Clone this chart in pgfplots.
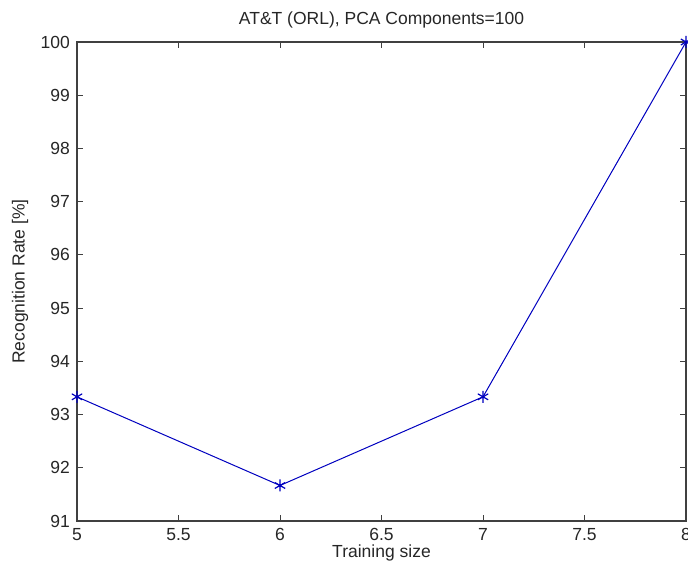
\documentclass[border=0pt]{standalone}
\usepackage{pgfplots}
\pgfplotsset{compat=1.18}
\usepackage{fontspec}
\setmainfont{Liberation Sans}
\begin{document}
\begin{tikzpicture}
\begin{axis}[
  scale only axis,
  width=304.5pt, height=239.5pt,
  xmin=5, xmax=8, ymin=91, ymax=100,
  xtick={5,5.5,...,8}, ytick={91,...,100},
  /pgf/number format/assume math mode=true,
  tick label style={font=\fontsize{8.75}{10}\selectfont, black!85},
  title={AT\&T (ORL), PCA Components=100},
  every axis title/.style={at={(axis description cs:0.5,1)}, yshift=11pt, anchor=center, font=\fontsize{8.75}{10}\selectfont, black!85},
  xlabel={Training size},
  ylabel={Recognition Rate [\%]},
  every axis x label/.style={at={(axis description cs:0.5,0)}, yshift=-16pt, anchor=center, font=\fontsize{8.75}{10}\selectfont, black!85},
  every axis y label/.style={at={(axis description cs:0,0.5)}, xshift=-28.5pt, rotate=90, anchor=center, font=\fontsize{8.75}{10}\selectfont, black!85},
  tick align=inside,
  major tick length=3pt,
  axis line style={black!75, line width=0.6pt},
  every tick/.style={black!75, line width=0.5pt},
  /pgf/number format/.cd, fixed, precision=1,
]
\addplot[color=blue!75!black, line width=0.5pt, mark=asterisk, mark size=3pt, mark options={line width=0.6pt}]
coordinates {(5,93.333) (6,91.667) (7,93.333) (8,100)};
\end{axis}
\pgfresetboundingbox
\path (current axis.south west) ++(-38.5pt,-25.5pt) coordinate (bbsw);
\path (current axis.north east) ++(1pt,21pt) coordinate (bbne);
\path[use as bounding box] (bbsw) rectangle (bbne);
\end{tikzpicture}
\end{document}
